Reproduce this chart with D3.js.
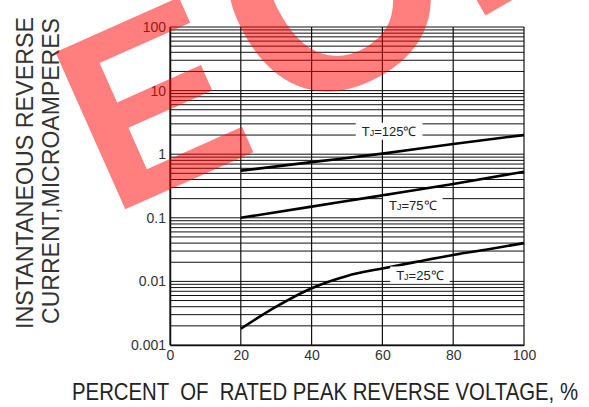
<!DOCTYPE html>
<html><head><meta charset="utf-8">
<script src="https://cdn.jsdelivr.net/npm/d3@7/dist/d3.min.js"></script>
<style>
body{margin:0;background:#fff}
svg{display:block}
text{font-family:"Liberation Sans",Arial,Helvetica,sans-serif}
</style>
</head><body>
<svg id="chart" width="589" height="407"></svg>
<script>
// ---- data ----
const xTicks = [0, 20, 40, 60, 80, 100];
const yTicks = [0.001, 0.01, 0.1, 1, 10, 100];
const yTickLabels = ["0.001", "0.01", "0.1", "1", "10", "100"];

const pct125 = [20, 40, 60, 80, 100];
const val125 = [0.55, 0.75, 1.02, 1.45, 2.0];

const pct75 = [20, 40, 60, 80, 100];
const val75 = [0.10, 0.15, 0.225, 0.34, 0.53];

const pct25 = [20, 30, 40, 50, 60, 70, 80, 90, 100];
const val25 = [0.0018, 0.0040, 0.0078, 0.0122, 0.0160, 0.0205, 0.026, 0.032, 0.040];

const labelText = ["T", "T", "T"];
const labelSub = ["J", "J", "J"];
const labelRest = ["=125\u2103", "=75\u2103", "=25\u2103"];
const labelX = [61.9, 68.6, 70.6];
const labelY = [2.3, 0.159, 0.0126];

const yTitle1 = "INSTANTANEOUS REVERSE";
const yTitle2 = "CURRENT,MICROAMPERES";
const xTitle = "PERCENT  OF  RATED PEAK REVERSE VOLTAGE, %";

// ---- layout ----
const svg = d3.select("#chart");
const L = 170, R = 524, T = 27, B = 345;
const x = d3.scaleLinear().domain([0, 100]).range([L, R]);
const y = d3.scaleLog().domain([0.001, 100]).range([B, T]);

const gridVals = [];
yTicks.slice(0, -1).forEach(d => { for (let k = 1; k <= 9; k++) gridVals.push(d * k); });
gridVals.push(100);

const gGrid = svg.append("g");
gGrid.selectAll("line.h").data(gridVals).join("line")
  .attr("x1", L).attr("x2", R)
  .attr("y1", d => y(d)).attr("y2", d => y(d))
  .attr("stroke", "#111").attr("stroke-width", 1);

gGrid.selectAll("line.v").data(xTicks).join("line")
  .attr("x1", d => x(d)).attr("x2", d => x(d))
  .attr("y1", T).attr("y2", B)
  .attr("stroke", "#111").attr("stroke-width", 1.2);

const yAxis = svg.append("g").attr("transform", `translate(${L},0)`)
  .call(d3.axisLeft(y).tickValues(yTicks).tickSize(0).tickPadding(4)
    .tickFormat((d, i) => yTickLabels[i]));
yAxis.select(".domain").attr("stroke", "#111").attr("stroke-width", 1.5);
yAxis.selectAll("text").attr("font-size", 14).attr("fill", "#333")
  .attr("font-family", '"Liberation Sans",Arial,sans-serif');

const xAxis = svg.append("g").attr("transform", `translate(0,${B})`)
  .call(d3.axisBottom(x).tickValues(xTicks).tickSize(0).tickPadding(5));
xAxis.select(".domain").attr("stroke", "#111").attr("stroke-width", 1.5);
xAxis.selectAll("text").attr("font-size", 14).attr("fill", "#333")
  .attr("font-family", '"Liberation Sans",Arial,sans-serif');

const line = d3.line().x(d => x(d[0])).y(d => y(d[1])).curve(d3.curveMonotoneX);
const series = [
  d3.zip(pct125, val125),
  d3.zip(pct75, val75),
  d3.zip(pct25, val25)
];
svg.append("g").selectAll("path").data(series).join("path")
  .attr("d", line).attr("fill", "none")
  .attr("stroke", "#000").attr("stroke-width", 2.6);

const lab = svg.append("g");
labelText.forEach((t, i) => {
  const g = lab.append("g");
  const tx = g.append("text")
    .attr("x", x(labelX[i])).attr("y", y(labelY[i]))
    .attr("text-anchor", "middle").attr("dominant-baseline", "central")
    .attr("font-size", 13).attr("fill", "#222");
  tx.append("tspan").text(t);
  tx.append("tspan").text(labelSub[i]).attr("font-size", 9).attr("dy", 2);
  tx.append("tspan").text(labelRest[i]).attr("dy", -2);
  const bb = tx.node().getBBox();
  g.insert("rect", "text")
    .attr("x", bb.x - 6).attr("y", bb.y - 1)
    .attr("width", bb.width + 12).attr("height", bb.height + 2)
    .attr("fill", "#fff");
});

svg.append("text").text(yTitle1)
  .attr("transform", "translate(33,173) rotate(-90)")
  .attr("text-anchor", "middle").attr("font-size", 23).attr("fill", "#333")
  .attr("textLength", 312).attr("lengthAdjust", "spacingAndGlyphs");
svg.append("text").text(yTitle2)
  .attr("transform", "translate(59,171) rotate(-90)")
  .attr("text-anchor", "middle").attr("font-size", 23).attr("fill", "#333")
  .attr("textLength", 306).attr("lengthAdjust", "spacingAndGlyphs");
svg.append("text").text(xTitle)
  .attr("x", 72).attr("y", 400)
  .attr("font-size", 24).attr("fill", "#222")
  .style("white-space", "pre")
  .attr("textLength", 506).attr("lengthAdjust", "spacingAndGlyphs");

// watermark
const wm = svg.append("g").attr("fill", "rgb(255,0,0)").attr("fill-opacity", 0.5)
  .attr("font-weight", "bold");
wm.append("text").text("E").attr("font-size", 250).attr("transform", "translate(110,216) rotate(-24)");
wm.append("text").text("C").attr("font-size", 285).attr("transform", "translate(285,128) rotate(-30)");
wm.append("text").text("E").attr("font-size", 285).attr("transform", "translate(469,25) rotate(-30)");
</script>
</body></html>
